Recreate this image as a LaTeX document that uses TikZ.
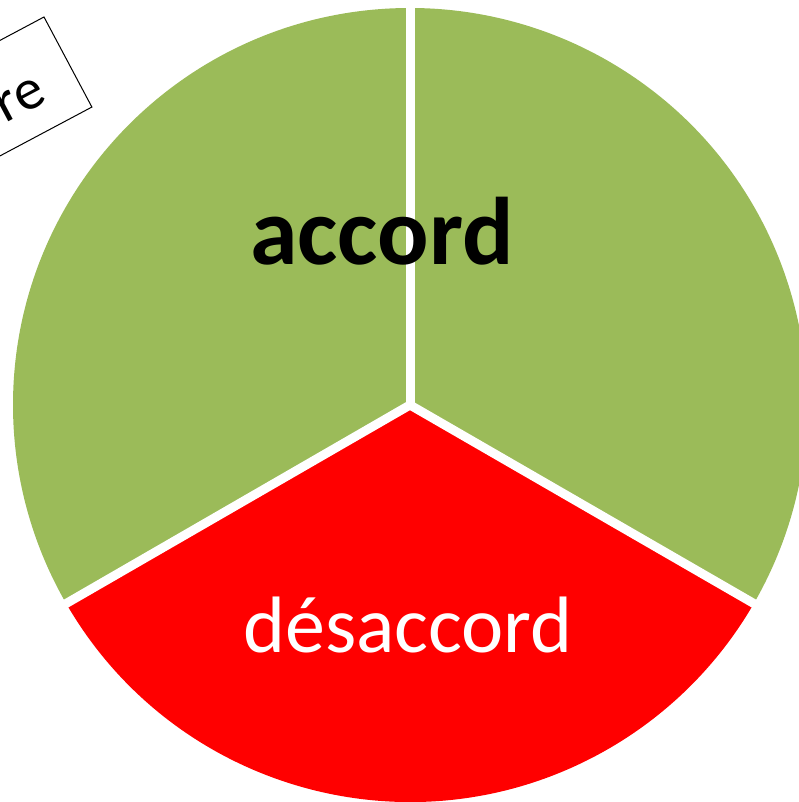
\documentclass[tikz,border=0pt]{standalone}
\usepackage{fontspec}
\setmainfont{Carlito}
\usepackage{tikz}
\usetikzlibrary{calc}
\definecolor{agree}{RGB}{155, 187, 89}
\definecolor{disagree}{RGB}{255, 0, 0}

\begin{document}
\begin{tikzpicture}[x=1pt, y=1pt,
    gap/.style={draw=white, line width=9pt},
    notebox/.style={draw=black, fill=white, line width=1pt}]

  \useasboundingbox (0, 0) rectangle (799, 802);
  \clip (0, 0) rectangle (799, 802);

  \coordinate (C) at (410, 397);

  \fill[agree] (C) -- ++(90:397) arc (90:210:397) -- cycle;
  \fill[disagree] (C) -- ++(210:397) arc (210:330:397) -- cycle;
  \fill[agree] (C) -- ++(330:397) arc (330:450:397) -- cycle;

  \coordinate (top) at ($(C) + (90:405)$);
  \coordinate (left) at ($(C) + (210:405)$);
  \coordinate (right) at ($(C) + (330:405)$);
  \draw[gap] (C) -- (top);
  \draw[gap] (C) -- (left);
  \draw[gap] (C) -- (right);

  \node[anchor=base, font=\fontsize{96}{110}\selectfont\bfseries] (accord) at (382, 537) {accord};
  \node[anchor=base, text=white, font=\fontsize{80}{96}\selectfont] (desaccord) at (408, 149) {désaccord};

  \begin{scope}[shift={(44, 785)}, rotate=28, transform shape]
    \draw[notebox] (0, 0) rectangle (-300, -102);
    \node[anchor=base east, font=\fontsize{58}{70}\selectfont, inner sep=0pt] (note) at (-35, -76) {re};
  \end{scope}

\end{tikzpicture}
\end{document}
